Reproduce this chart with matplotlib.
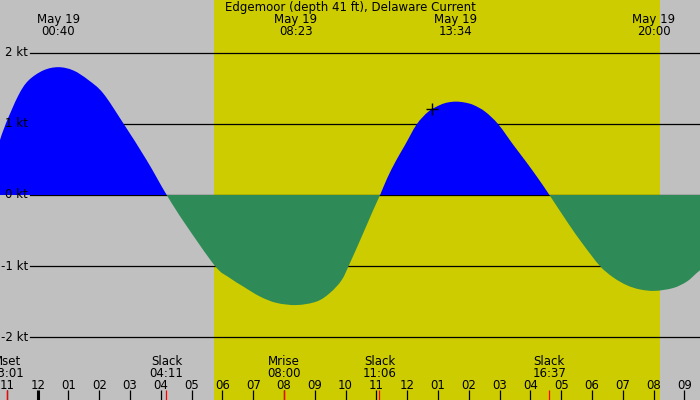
import matplotlib
matplotlib.use("Agg")
import matplotlib.pyplot as plt
from matplotlib.path import Path
from matplotlib.patches import PathPatch
import numpy as np

# current speed (hours after midnight May 19, knots)
times_h = [-1.224, -1.03, -0.63, -0.305, 0.18, 0.67, 1.157, 1.643, 2.13, 2.78,
           3.54, 4.19, 4.78, 5.76, 6.21, 6.68, 7.22, 7.76, 8.41, 9.06, 9.49,
           9.87, 10.14, 10.57, 10.90, 11.12, 11.35, 11.62, 11.93, 12.31, 12.69,
           13.07, 13.33, 13.59, 13.86, 14.15, 14.53, 14.96, 15.45, 15.86, 16.25,
           16.62, 17.23, 17.72, 18.26, 18.69, 19.13, 19.56, 20.05, 20.64, 21.08,
           21.40, 21.51]
speed_kt = [0.775, 1.01, 1.40, 1.61, 1.754, 1.80, 1.754, 1.62, 1.43, 1.01,
            0.49, 0.0, -0.40, -1.0, -1.16, -1.29, -1.43, -1.52, -1.55, -1.50, -1.38,
            -1.20, -0.96, -0.54, -0.21, 0.0, 0.235, 0.469, 0.704, 0.995, 1.174,
            1.268, 1.304, 1.315, 1.303, 1.268, 1.174, 0.995, 0.704, 0.469, 0.235,
            0.0, -0.40, -0.70, -1.0, -1.16, -1.27, -1.33, -1.35, -1.31, -1.22,
            -1.10, -1.06]

max_times = [0.667, 8.383, 13.567, 20.0]
max_labels = ["00:40", "08:23", "13:34", "20:00"]

event_times = [-0.983, 4.183, 8.0, 11.1, 16.617]
event_names = ["Mset", "Slack", "Mrise", "Slack", "Slack"]
event_labels = ["23:01", "04:11", "08:00", "11:06", "16:37"]

now_h, now_kt = 12.82, 1.207

sunrise_h = 5.726
sunset_h = 20.2

kt_levels = [2, 1, 0, -1, -2]
hour_ticks = list(range(-1, 22))

t_min, t_max = -1.224, 21.51
v_min, v_max = -2.887, 2.746


def smooth_area(xs, ys):
    # closed path: baseline -> bezier (catmull-rom) through the readings -> baseline
    pts = np.column_stack([xs, ys])
    n = len(pts)
    verts = [(xs[0], 0.0), tuple(pts[0])]
    codes = [Path.MOVETO, Path.LINETO]
    for i in range(n - 1):
        p0 = pts[max(i - 1, 0)]
        p1 = pts[i]
        p2 = pts[i + 1]
        p3 = pts[min(i + 2, n - 1)]
        c1 = p1 + (p2 - p0) / 6.0
        c2 = p2 - (p3 - p1) / 6.0
        verts += [tuple(c1), tuple(c2), tuple(p2)]
        codes += [Path.CURVE4] * 3
    verts += [(xs[-1], 0.0), (xs[0], 0.0)]
    codes += [Path.LINETO, Path.CLOSEPOLY]
    return Path(verts, codes)


fig = plt.figure(figsize=(7, 4), dpi=100)
ax = fig.add_axes([0, 0, 1, 1])
ax.set_facecolor("#c0c0c0")
ax.set_xlim(t_min, t_max)
ax.set_ylim(v_min, v_max)
ax.set_axis_off()

ax.axvspan(sunrise_h, sunset_h, color="#cccc00", lw=0, zorder=0)

ytrans = ax.get_yaxis_transform()
xtrans = ax.get_xaxis_transform()
fs = 8.5

for lev in kt_levels:
    ax.plot([30 / 700, 1], [lev, lev], color="black", lw=0.9, transform=ytrans, zorder=1)
    ax.text(28 / 700, lev, "%d kt" % lev, transform=ytrans, ha="right", va="center",
            fontsize=fs, zorder=5)

area = smooth_area(times_h, speed_kt)
flood = PathPatch(area, facecolor="#0000ff", lw=0, zorder=2)
ebb = PathPatch(area, facecolor="#2e8b57", lw=0, zorder=2)
ax.add_patch(flood)
ax.add_patch(ebb)
top_clip = plt.Rectangle((t_min - 1, 0), t_max - t_min + 2, 10, transform=ax.transData)
bot_clip = plt.Rectangle((t_min - 1, -10), t_max - t_min + 2, 10, transform=ax.transData)
flood.set_clip_path(top_clip)
ebb.set_clip_path(bot_clip)

ax.plot([now_h], [now_kt], marker="+", color="black", markersize=9, mew=1, zorder=6)

ax.text((t_min + t_max) / 2, 0.981, "Edgemoor (depth 41 ft), Delaware Current",
        transform=xtrans, ha="center", va="center", fontsize=fs, zorder=5)
for mt, ml in zip(max_times, max_labels):
    ax.text(mt, 0.952, "May 19", transform=xtrans, ha="center", va="center", fontsize=fs, zorder=5)
    ax.text(mt, 0.921, ml, transform=xtrans, ha="center", va="center", fontsize=fs, zorder=5)

for h in hour_ticks:
    lab = "%02d" % (h % 12 if h % 12 else 12)
    ax.text(h, 0.036, lab, transform=xtrans, ha="center", va="center", fontsize=fs, zorder=5)
    lw = 2.2 if h % 24 == 0 else 0.9
    ax.plot([h, h], [0, 10 / 400], color="black", lw=lw, transform=xtrans,
            solid_capstyle="butt", zorder=4)

for et, en, el in zip(event_times, event_names, event_labels):
    ax.plot([et, et], [0, 10 / 400], color="red", lw=0.9, transform=xtrans,
            solid_capstyle="butt", zorder=4.5)
    ax.text(et, 0.096, en, transform=xtrans, ha="center", va="center", fontsize=fs, zorder=5)
    ax.text(et, 0.067, el, transform=xtrans, ha="center", va="center", fontsize=fs, zorder=5)

fig.savefig("out.png", dpi=100, facecolor="#c0c0c0")
